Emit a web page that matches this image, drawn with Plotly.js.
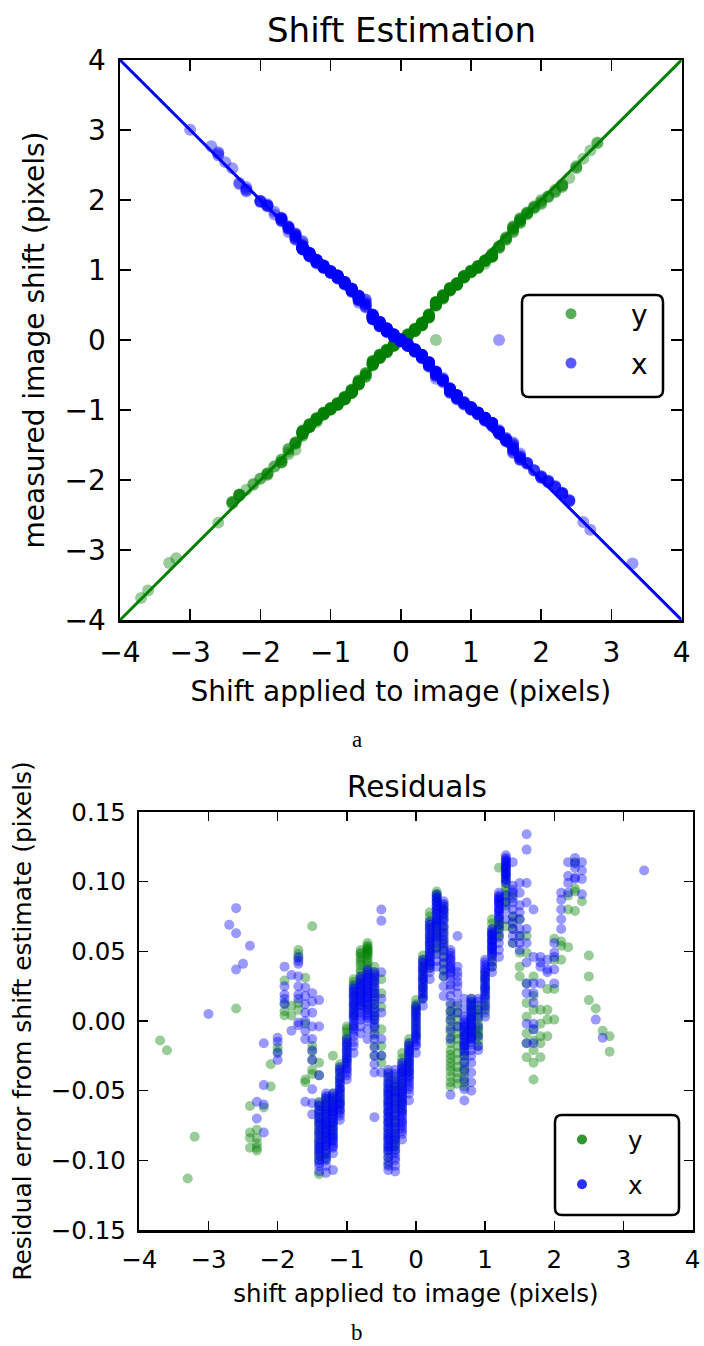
<!DOCTYPE html>
<html><head><meta charset="utf-8">
<script src="https://cdn.plot.ly/plotly-3.0.1.min.js"></script>
<style>html,body{margin:0;padding:0;background:#fff;}#chart{width:704px;height:1346px;}</style>
</head><body><div id="chart"></div>
<script>
// ---------- DATA ----------
// Applied shifts (pixels) for the y-direction measurements, one entry per column of repeats
const shiftsY = [-3.7,-3.6,-3.3,-3.2,-2.6,-2.4,-2.3,-2.2,-2.1,-2.0,-1.9,-1.8,-1.7,-1.6,-1.5,-1.4,-1.3,-1.2,-1.1,-1.0,-0.9,-0.8,-0.7,-0.6,-0.5,-0.4,-0.3,-0.2,-0.1,0.0,0.1,0.2,0.3,0.4,0.5,0.6,0.7,0.8,0.9,1.0,1.1,1.2,1.3,1.4,1.5,1.6,1.7,1.8,1.9,2.0,2.1,2.2,2.3,2.4,2.5,2.6,2.7,2.8];
// Residual error (pixels) of each y measurement, grouped by applied shift
const residY = [
  [-0.014],                                   // -3.7
  [-0.021],                                   // -3.6
  [-0.113],                                   // -3.3
  [-0.083],                                   // -3.2
  [0.009],                                    // -2.6
  [-0.061,-0.080,-0.084,-0.091],              // -2.4
  [-0.078,-0.084,-0.088,-0.091,-0.093],       // -2.3
  [-0.062],                                   // -2.2
  [-0.031,-0.047],                            // -2.1
  [-0.019,-0.022],                            // -2.0
  [0.029,0.013,0.007,0.004],                  // -1.9
  [0.011,0.004],                              // -1.8
  [0.051,0.048,0.045,0.013,0.008],            // -1.7
  [0.031,-0.002,-0.042,-0.044],               // -1.6
  [0.068,-0.018,-0.022,-0.028,-0.035,-0.038], // -1.5
  [-0.030,-0.039,-0.058,-0.061,-0.064,-0.067,-0.070,-0.073,-0.076,-0.079,-0.082,-0.085,-0.088,-0.091,-0.094,-0.097,-0.100,-0.110], // -1.4
  [-0.055,-0.057,-0.059,-0.062,-0.064,-0.067,-0.069,-0.072,-0.074,-0.077,-0.080,-0.083,-0.086,-0.089,-0.093,-0.096,-0.099], // -1.3
  [-0.025,-0.052,-0.055,-0.058,-0.060,-0.062,-0.065,-0.067,-0.070,-0.073,-0.076,-0.079,-0.082,-0.086], // -1.2
  [-0.031,-0.034,-0.037,-0.040,-0.042,-0.045,-0.049,-0.052,-0.055,-0.058,-0.060,-0.064], // -1.1
  [-0.004,-0.006,-0.008,-0.011,-0.013,-0.016,-0.018,-0.021,-0.024,-0.027,-0.030], // -1.0
  [0.030,0.028,0.026,0.023,0.021,0.018,0.015,0.012,0.009,0.006,0.003,-0.004], // -0.9
  [0.051,0.049,0.048,0.046,0.044,0.042,0.040,0.037,0.035,0.032,0.030,0.027,0.025,0.021,0.018,0.014,0.010], // -0.8
  [0.056,0.054,0.053,0.052,0.051,0.050,0.049,0.048,0.047,0.045,0.043,0.041,0.039,0.036,0.033,0.029,0.025,0.021,0.017,0.012,0.008], // -0.7
  [0.039,0.035,0.032,0.028,0.024,0.020,0.016,0.012,0.008,0.004,0.001,-0.005,-0.010,-0.018,-0.025], // -0.6
  [0.030,0.020,0.010,-0.006,-0.018,-0.025,-0.030], // -0.5
  [-0.037,-0.041,-0.045,-0.049,-0.053,-0.057,-0.061,-0.065,-0.069,-0.073,-0.077,-0.081,-0.085,-0.089,-0.093,-0.098,-0.103], // -0.4
  [-0.040,-0.044,-0.047,-0.050,-0.052,-0.055,-0.059,-0.062,-0.066,-0.069,-0.073,-0.076,-0.080,-0.083,-0.086,-0.089,-0.092], // -0.3
  [-0.023,-0.027,-0.030,-0.034,-0.037,-0.040,-0.044,-0.047,-0.050,-0.054,-0.057,-0.060,-0.064], // -0.2
  [-0.013,-0.016,-0.018,-0.021,-0.024,-0.027,-0.030,-0.033,-0.036,-0.040], // -0.1
  [0.015,0.012,0.010,0.008,0.006,0.003,0.000,-0.003,-0.006,-0.009,-0.012], // 0.0
  [0.047,0.044,0.042,0.039,0.036,0.033,0.030,0.027,0.024,0.020,0.016], // 0.1
  [0.078,0.075,0.072,0.069,0.066,0.062,0.059,0.055,0.052,0.048,0.045,0.041,0.038], // 0.2
  [0.093,0.091,0.090,0.088,0.086,0.083,0.080,0.077,0.073,0.070,0.068,0.065,0.063,0.060,0.057,0.053,0.050], // 0.3
  [0.083,0.080,0.077,0.073,0.068,0.064,0.059,0.055,0.050,0.046,0.041,0.036,0.032], // 0.4
  [0.011,0.007,0.004,0.000,-0.004,-0.008,-0.012,-0.016,-0.021,-0.024,-0.027,-0.030,-0.033,-0.036,-0.040,-0.044,-0.047], // 0.5
  [0.011,0.006,0.001,-0.004,-0.009,-0.013,-0.018,-0.023,-0.028,-0.033,-0.037,-0.041,-0.045], // 0.6
  [-0.004,-0.008,-0.011,-0.015,-0.018,-0.022,-0.025,-0.029,-0.033,-0.036,-0.040,-0.044,-0.047], // 0.7
  [0.016,0.013,0.011,0.008,0.006,0.003,0.001,-0.002,-0.004,-0.007,-0.009,-0.011,-0.013], // 0.8
  [0.011,0.008,0.005,0.002,-0.002,-0.005,-0.007,-0.009,-0.011,-0.014,-0.018], // 0.9
  [0.035,0.032,0.029,0.025,0.022,0.018,0.013,0.010,0.006], // 1.0
  [0.073,0.070,0.066,0.063,0.060,0.057,0.054,0.050,0.047,0.043,0.039], // 1.1
  [0.110,0.073,0.071,0.069,0.068,0.066,0.063,0.060], // 1.2
  [0.113,0.110,0.108,0.105,0.102,0.099,0.096,0.093,0.090,0.086,0.083,0.068], // 1.3
  [0.090,0.075,0.071,0.066,0.056],            // 1.4
  [0.073,0.061,0.049,0.039,0.032],            // 1.5
  [0.061,0.049,0.027,0.013,0.003,-0.009,-0.016,-0.026], // 1.6
  [0.032,0.018,0.008,-0.006,-0.014,-0.021,-0.030,-0.042], // 1.7
  [0.008,-0.002,-0.011,-0.016,-0.026],        // 1.8
  [0.023,0.008,0.001,-0.011],                 // 1.9
  [0.059,0.044,0.023,0.001],                  // 2.0
  [0.057,0.054,0.044],                        // 2.1
  [0.090,0.080,0.053],                        // 2.2
  [0.114,0.095,0.093,0.079],                  // 2.3
  [0.086],                                    // 2.4
  [0.047,0.032,0.015],                        // 2.5
  [0.009],                                    // 2.6
  [-0.007],                                   // 2.7
  [-0.011,-0.022]                             // 2.8
];

// Applied shifts (pixels) for the x-direction measurements
const shiftsX = [-3.0,-2.7,-2.6,-2.5,-2.4,-2.3,-2.2,-2.0,-1.9,-1.8,-1.7,-1.6,-1.5,-1.4,-1.3,-1.2,-1.1,-1.0,-0.9,-0.8,-0.7,-0.6,-0.5,-0.4,-0.3,-0.2,-0.1,0.0,0.1,0.2,0.3,0.4,0.5,0.6,0.7,0.8,0.9,1.0,1.1,1.2,1.3,1.4,1.5,1.6,1.7,1.8,1.9,2.0,2.1,2.2,2.3,2.4,2.6,2.7,3.3];
const residX = [
  [0.005],                                    // -3.0
  [0.069],                                    // -2.7
  [0.081,0.063,0.037],                        // -2.6
  [0.041],                                    // -2.5
  [0.054],                                    // -2.4
  [-0.058,-0.070],                            // -2.3
  [-0.016,-0.046,-0.060,-0.080],              // -2.2
  [-0.012,-0.015,-0.023,-0.028],              // -2.0
  [0.039,0.025,0.019,0.016,0.012],            // -1.9
  [0.033,-0.007],                             // -1.8
  [0.046,0.043,0.041,0.032,0.025,0.019,0.016,-0.001,-0.003], // -1.7
  [0.024,0.018,0.012,0.006,0.000,-0.007,-0.013,-0.058],      // -1.6
  [0.020,0.014,0.006,-0.004,-0.013,-0.021,-0.028,-0.049,-0.059,-0.067], // -1.5
  [0.015,-0.004,-0.039,-0.059,-0.061,-0.064,-0.066,-0.069,-0.071,-0.073,-0.075,-0.078,-0.080,-0.082,-0.085,-0.087,-0.089,-0.091,-0.093,-0.095,-0.097,-0.100,-0.102,-0.104,-0.108], // -1.4
  [-0.052,-0.054,-0.056,-0.059,-0.061,-0.063,-0.065,-0.067,-0.069,-0.071,-0.073,-0.075,-0.076,-0.078,-0.080,-0.082,-0.083,-0.085,-0.087,-0.089,-0.090,-0.093,-0.095,-0.098,-0.100,-0.104,-0.109], // -1.3
  [-0.052,-0.054,-0.056,-0.058,-0.060,-0.062,-0.063,-0.065,-0.066,-0.068,-0.070,-0.072,-0.073,-0.075,-0.077,-0.079,-0.081,-0.083,-0.084,-0.086,-0.088,-0.090,-0.091,-0.095,-0.107], // -1.2
  [-0.033,-0.035,-0.037,-0.040,-0.042,-0.044,-0.046,-0.048,-0.049,-0.051,-0.053,-0.055,-0.057,-0.059,-0.060,-0.062,-0.064,-0.066,-0.068,-0.071], // -1.1
  [-0.013,-0.015,-0.017,-0.019,-0.021,-0.023,-0.025,-0.027,-0.028,-0.030,-0.032,-0.034,-0.035,-0.037,-0.039,-0.042], // -1.0
  [0.025,0.023,0.021,0.019,0.018,0.016,0.014,0.012,0.011,0.009,0.007,0.005,0.004,0.002,0.000,-0.002,-0.004,-0.006,-0.008,-0.011,-0.015,-0.018,-0.023], // -0.9
  [0.032,0.030,0.028,0.026,0.025,0.023,0.021,0.019,0.018,0.016,0.014,0.012,0.011,0.008,0.006,0.003,0.001,-0.004,-0.009], // -0.8
  [0.037,0.035,0.033,0.031,0.030,0.028,0.026,0.024,0.023,0.021,0.019,0.017,0.016,0.014,0.012,0.010,0.008,0.006,0.004,0.002,0.000,-0.006,-0.013], // -0.7
  [0.035,0.033,0.031,0.029,0.027,0.025,0.022,0.020,0.018,0.015,0.012,0.009,0.006,0.003,0.001,-0.002,-0.004,-0.009,-0.013,-0.019,-0.025,-0.031,-0.037,-0.069], // -0.6
  [0.080,0.072,0.035,0.016,0.006,-0.013,-0.025,-0.037], // -0.5
  [-0.035,-0.038,-0.040,-0.043,-0.045,-0.047,-0.049,-0.051,-0.052,-0.054,-0.056,-0.058,-0.059,-0.061,-0.063,-0.065,-0.066,-0.068,-0.070,-0.072,-0.073,-0.075,-0.077,-0.079,-0.081,-0.083,-0.084,-0.086,-0.088,-0.090,-0.091,-0.093,-0.095,-0.098,-0.101,-0.104,-0.107], // -0.4
  [-0.035,-0.038,-0.042,-0.045,-0.047,-0.050,-0.052,-0.054,-0.056,-0.059,-0.061,-0.063,-0.066,-0.068,-0.071,-0.073,-0.076,-0.078,-0.081,-0.083,-0.085,-0.088,-0.090,-0.093,-0.095,-0.098,-0.100,-0.104,-0.108], // -0.3
  [-0.030,-0.032,-0.034,-0.036,-0.037,-0.039,-0.041,-0.043,-0.045,-0.047,-0.049,-0.051,-0.052,-0.054,-0.056,-0.058,-0.059,-0.061,-0.063,-0.065,-0.066,-0.068,-0.070,-0.072,-0.073,-0.075,-0.077,-0.079,-0.081,-0.085], // -0.2
  [-0.016,-0.018,-0.020,-0.022,-0.023,-0.025,-0.027,-0.029,-0.030,-0.032,-0.034,-0.036,-0.037,-0.039,-0.041,-0.043,-0.045,-0.047,-0.049,-0.052,-0.057], // -0.1
  [0.011,0.009,0.007,0.005,0.004,0.002,0.000,-0.002,-0.004,-0.006,-0.008,-0.010,-0.011,-0.013,-0.015,-0.017,-0.018,-0.023], // 0.0
  [0.044,0.042,0.040,0.038,0.037,0.035,0.033,0.031,0.030,0.028,0.026,0.024,0.023,0.021,0.019,0.017,0.016,0.011], // 0.1
  [0.071,0.069,0.067,0.065,0.063,0.061,0.059,0.057,0.056,0.054,0.052,0.050,0.049,0.047,0.045,0.043,0.042,0.040,0.038,0.035,0.030], // 0.2
  [0.091,0.089,0.088,0.086,0.085,0.083,0.082,0.080,0.079,0.077,0.075,0.073,0.072,0.070,0.068,0.066,0.063,0.061,0.059,0.056,0.052,0.048,0.043,0.039], // 0.3
  [0.086,0.084,0.082,0.080,0.079,0.077,0.075,0.073,0.071,0.068,0.066,0.063,0.061,0.058,0.056,0.053,0.051,0.046,0.042,0.037,0.032,0.025,0.018], // 0.4
  [0.051,0.049,0.047,0.045,0.044,0.042,0.040,0.038,0.037,0.035,0.033,0.030,0.026,0.023,0.018,0.013,0.007,0.001,-0.006,-0.013,-0.053], // 0.5
  [0.061,0.039,0.035,0.032,0.028,0.025,0.020,0.013,0.006,-0.004], // 0.6
  [0.016,0.009,0.003,0.001,-0.001,-0.003,-0.004,-0.006,-0.008,-0.010,-0.011,-0.013,-0.015,-0.017,-0.018,-0.020,-0.022,-0.025,-0.030,-0.035,-0.042,-0.049,-0.057], // 0.7
  [0.016,0.014,0.012,0.010,0.008,0.006,0.004,0.002,0.001,-0.001,-0.003,-0.005,-0.006,-0.008,-0.010,-0.012,-0.013,-0.015,-0.017,-0.021,-0.025,-0.030,-0.037,-0.044,-0.050], // 0.8
  [0.016,0.014,0.008,0.003,-0.004,-0.011,-0.018,-0.021], // 0.9
  [0.044,0.042,0.040,0.038,0.037,0.035,0.033,0.031,0.030,0.028,0.026,0.024,0.023,0.021,0.019,0.017,0.015,0.011,0.008,0.003], // 1.0
  [0.066,0.064,0.063,0.062,0.061,0.059,0.058,0.057,0.056,0.054,0.053,0.052,0.051,0.049,0.048,0.046,0.042,0.039,0.035], // 1.1
  [0.092,0.090,0.089,0.088,0.087,0.086,0.085,0.084,0.083,0.081,0.080,0.079,0.078,0.076,0.075,0.073,0.069,0.066,0.061,0.056,0.051,0.046], // 1.2
  [0.119,0.117,0.116,0.115,0.114,0.112,0.111,0.110,0.109,0.107,0.106,0.105,0.104,0.102,0.101,0.099,0.090,0.085,0.080,0.073], // 1.3
  [0.114,0.097,0.094,0.092,0.088,0.085,0.080,0.075,0.070,0.066,0.061,0.056], // 1.4
  [0.099,0.092,0.083,0.078,0.073,0.066,0.061,0.056,0.051], // 1.5
  [0.134,0.123,0.099,0.085,0.066,0.056,0.042,0.027,0.020,-0.002,-0.016], // 1.6
  [0.080,0.046,0.027,0.020,0.013,-0.002,-0.006,-0.016], // 1.7
  [0.046,0.042,0.039,0.027],                  // 1.8
  [0.044,0.037,0.035],                        // 1.9
  [0.056,0.049,0.046,0.037,0.027],            // 2.0
  [0.092,0.087,0.080,0.073,0.066],            // 2.1
  [0.114,0.104,0.099,0.092],                  // 2.2
  [0.117,0.113,0.110,0.103,0.102],            // 2.3
  [0.114,0.108,0.102,0.091],                  // 2.4
  [0.001],                                    // 2.6
  [-0.012],                                   // 2.7
  [0.108]                                     // 3.3
];

// Failed estimates (measured shift = 0), only visible in the top panel
const failShiftY = [0.5];
const failMeasY  = [0.0];
const failShiftX = [1.4];
const failMeasX  = [0.0];

// Reference lines (ideal response)
const lineX      = [-4, 4];
const lineIdealY = [-4, 4];
const lineIdealX = [4, -4];

const seriesNames = ['y', 'x'];
const axisTicks   = [-4, -3, -2, -1, 0, 1, 2, 3, 4];

// ---------- BUILD ----------
function expand(shifts, resids) {
  const s = [], r = [];
  shifts.forEach((v, i) => resids[i].forEach(e => { s.push(v); r.push(e); }));
  return { s, r };
}
const Y = expand(shiftsY, residY);
const X = expand(shiftsX, residX);
// measured y shift = applied - residual ; measured x shift = residual - applied (axis flipped)
const measY = Y.s.map((v, i) => v - Y.r[i]).concat(failMeasY);
const appY  = Y.s.concat(failShiftY);
const measX = X.s.map((v, i) => X.r[i] - v).concat(failMeasX);
const appX  = X.s.concat(failShiftX);

const GREEN = '#008000', BLUE = '#0000ff';
const FONT = 'DejaVu Sans, Verdana, sans-serif';
const W = 704, H = 1346;
const px = v => v / W, py = v => 1 - v / H;

const traces = [
  { x: lineX, y: lineIdealY, mode: 'lines', line: { color: GREEN, width: 3 }, showlegend: false, hoverinfo: 'skip', xaxis: 'x', yaxis: 'y' },
  { x: lineX, y: lineIdealX, mode: 'lines', line: { color: BLUE, width: 3 }, showlegend: false, hoverinfo: 'skip', xaxis: 'x', yaxis: 'y' },
  { x: appY, y: measY, mode: 'markers', marker: { color: GREEN, size: 12, opacity: 0.4, line: { width: 0 } }, showlegend: false, xaxis: 'x', yaxis: 'y' },
  { x: appX, y: measX, mode: 'markers', marker: { color: BLUE, size: 12, opacity: 0.4, line: { width: 0 } }, showlegend: false, xaxis: 'x', yaxis: 'y' },
  { x: [null], y: [null], name: seriesNames[0], mode: 'markers', marker: { color: GREEN, size: 11, opacity: 0.65 }, legend: 'legend', legendgroup: 'a1', xaxis: 'x', yaxis: 'y' },
  { x: [null], y: [null], name: seriesNames[1], mode: 'markers', marker: { color: BLUE, size: 11, opacity: 0.65 }, legend: 'legend', legendgroup: 'a2', xaxis: 'x', yaxis: 'y' },
  { x: Y.s, y: Y.r, mode: 'markers', marker: { color: GREEN, size: 10, opacity: 0.4, line: { width: 0 } }, showlegend: false, xaxis: 'x2', yaxis: 'y2' },
  { x: X.s, y: X.r, mode: 'markers', marker: { color: BLUE, size: 10, opacity: 0.4, line: { width: 0 } }, showlegend: false, xaxis: 'x2', yaxis: 'y2' },
  { x: [null], y: [null], name: seriesNames[0], mode: 'markers', marker: { color: GREEN, size: 10, opacity: 0.82 }, legend: 'legend2', legendgroup: 'b1', xaxis: 'x2', yaxis: 'y2' },
  { x: [null], y: [null], name: seriesNames[1], mode: 'markers', marker: { color: BLUE, size: 10, opacity: 0.82 }, legend: 'legend2', legendgroup: 'b2', xaxis: 'x2', yaxis: 'y2' }
];

function axisBase(fs) {
  return {
    showline: true, linecolor: 'black', linewidth: 2.5, mirror: 'ticks',
    ticks: 'inside', ticklen: 11, tickwidth: 1.5, tickcolor: 'black',
    showgrid: false, zeroline: false, fixedrange: true,
    tickfont: { family: FONT, size: fs, color: 'black' },
    ticklabelstandoff: 6
  };
}

// rounded legend frame (pixel box -> paper path)
function roundBox(x0, y0, x1, y1, r) {
  const X_ = v => (v / W).toFixed(5), Y_ = v => (1 - v / H).toFixed(5);
  return 'M' + X_(x0 + r) + ',' + Y_(y0) + ' L' + X_(x1 - r) + ',' + Y_(y0) +
    ' Q' + X_(x1) + ',' + Y_(y0) + ' ' + X_(x1) + ',' + Y_(y0 + r) +
    ' L' + X_(x1) + ',' + Y_(y1 - r) +
    ' Q' + X_(x1) + ',' + Y_(y1) + ' ' + X_(x1 - r) + ',' + Y_(y1) +
    ' L' + X_(x0 + r) + ',' + Y_(y1) +
    ' Q' + X_(x0) + ',' + Y_(y1) + ' ' + X_(x0) + ',' + Y_(y1 - r) +
    ' L' + X_(x0) + ',' + Y_(y0 + r) +
    ' Q' + X_(x0) + ',' + Y_(y0) + ' ' + X_(x0 + r) + ',' + Y_(y0) + ' Z';
}

const layout = {
  width: W, height: H,
  margin: { l: 0, r: 0, t: 0, b: 0 },
  paper_bgcolor: 'white', plot_bgcolor: 'white',
  font: { family: FONT, color: 'black' },
  xaxis: Object.assign(axisBase(28), {
    domain: [px(120), px(681.6)], range: [-4, 4], tickvals: axisTicks, anchor: 'y',
    title: { text: 'Shift applied to image (pixels)', font: { family: FONT, size: 28 }, standoff: 14 }
  }),
  yaxis: Object.assign(axisBase(28), {
    domain: [py(620), py(60)], range: [-4, 4], tickvals: axisTicks, anchor: 'x',
    title: { text: 'measured image shift (pixels)', font: { family: FONT, size: 28 }, standoff: 12 }
  }),
  xaxis2: Object.assign(axisBase(24.5), {
    domain: [px(139.3), px(692.6)], range: [-4, 4], tickvals: axisTicks, anchor: 'y2', ticklen: 9,
    title: { text: 'shift applied to image (pixels)', font: { family: FONT, size: 24.5 }, standoff: 12 }
  }),
  yaxis2: Object.assign(axisBase(24.5), {
    domain: [py(1230), py(812)], range: [-0.15, 0.15], dtick: 0.05, tick0: 0, tickformat: '.2f', anchor: 'x2', ticklen: 9,
    title: { text: 'Residual error from shift estimate (pixels)', font: { family: FONT, size: 25 }, standoff: 12 }
  }),
  legend: {
    x: px(511), y: py(289), xanchor: 'left', yanchor: 'top',
    bgcolor: 'rgba(0,0,0,0)', borderwidth: 0,
    font: { family: FONT, size: 28, color: 'black' }, itemwidth: 110, tracegroupgap: 10
  },
  legend2: {
    x: px(536), y: py(1117), xanchor: 'left', yanchor: 'top',
    bgcolor: 'rgba(0,0,0,0)', borderwidth: 0,
    font: { family: FONT, size: 24.5, color: 'black' }, itemwidth: 82, tracegroupgap: 10
  },
  shapes: [
    { type: 'path', xref: 'paper', yref: 'paper', path: roundBox(522, 295, 663, 397, 7), line: { color: 'black', width: 2.5 }, fillcolor: 'white', layer: 'above' },
    { type: 'path', xref: 'paper', yref: 'paper', path: roundBox(555, 1115, 679, 1215, 7), line: { color: 'black', width: 2.5 }, fillcolor: 'white', layer: 'above' }
  ],
  annotations: [
    { text: 'Shift Estimation', x: px(401), y: py(30), xref: 'paper', yref: 'paper', xanchor: 'center', yanchor: 'middle', showarrow: false, font: { family: FONT, size: 34 } },
    { text: 'Residuals', x: px(417), y: py(787), xref: 'paper', yref: 'paper', xanchor: 'center', yanchor: 'middle', showarrow: false, font: { family: FONT, size: 29.5 } },
    { text: 'a', x: px(357), y: py(739), xref: 'paper', yref: 'paper', xanchor: 'center', yanchor: 'middle', showarrow: false, font: { family: 'Liberation Serif, DejaVu Serif, serif', size: 23 } },
    { text: 'b', x: px(357), y: py(1332), xref: 'paper', yref: 'paper', xanchor: 'center', yanchor: 'middle', showarrow: false, font: { family: 'Liberation Serif, DejaVu Serif, serif', size: 23 } }
  ]
};

Plotly.newPlot('chart', traces, layout, { staticPlot: true, displayModeBar: false });
</script></body></html>
